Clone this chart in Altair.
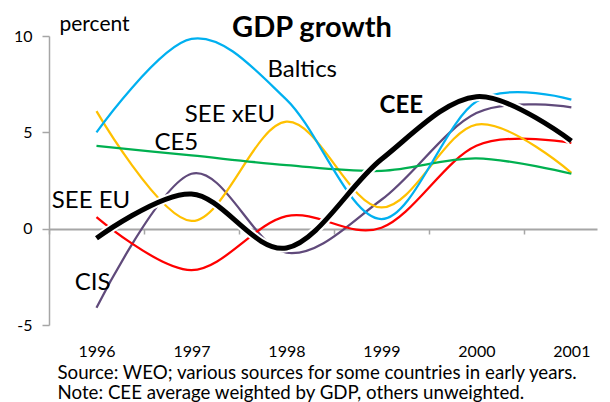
import altair as alt
import pandas as pd

years = [1996, 1997, 1998, 1999, 2000, 2001]
baltics = [5.0, 9.85, 6.7, 0.5, 6.6, 6.7]
see_xeu = [6.1, 0.4, 5.55, 1.1, 5.4, 2.9]
ce5 = [4.3, 3.8, 3.3, 3.0, 3.65, 2.85]
see_eu = [0.6, -2.15, 0.65, 0.05, 4.3, 4.45]
cis = [-4.1, 2.85, -1.25, 1.5, 6.0, 6.3]
cee = [-0.5, 1.8, -1.0, 3.6, 6.85, 4.55]

series_names = ["CIS", "SEE EU", "SEE xEU", "CE5", "Baltics"]
series_values = [cis, see_eu, see_xeu, ce5, baltics]
series_colors = ["#604A7B", "#FF0000", "#FFC000", "#00B050", "#00B0F0"]

label_names = ["Baltics", "SEE xEU", "CE5", "SEE EU", "CIS"]
label_x = [1997.80, 1996.93, 1996.61, 1995.53, 1995.77]
label_y = [8.25, 5.92, 4.46, 1.45, -2.8]
cee_label = ["CEE"]
cee_label_x = [1998.98]
cee_label_y = [6.38]

tick_bounds = [1995.5, 1996.5, 1997.5, 1998.5, 1999.5, 2000.5]
y_ticks = [-5, 0, 5, 10]
note_lines = ["Source: WEO; various sources for some countries in early years.",
              "Note: CEE average weighted by GDP, others unweighted."]

rows = []
for name, vals in zip(series_names, series_values):
    for yr, v in zip(years, vals):
        rows.append({"year": yr, "value": v, "series": name})
df = pd.DataFrame(rows)
cee_df = pd.DataFrame({"year": years, "value": cee})
lab_df = pd.DataFrame({"label": label_names, "x": label_x, "y": label_y})
cee_lab_df = pd.DataFrame({"label": cee_label, "x": cee_label_x, "y": cee_label_y})

FONT = "Lato"
GRAY = "#A6A6A6"
xscale = alt.Scale(domain=[1995.5, 2001.27], nice=False, zero=False)
yscale = alt.Scale(domain=[-5, 10], nice=False, zero=False)

y_axis = alt.Axis(values=y_ticks, grid=False, tickSize=7, tickColor=GRAY, tickWidth=1.5,
                  domainColor=GRAY, domainWidth=1.5, labelPadding=10, labelFont=FONT,
                  labelFontSize=16, labelColor="black", labelExpr="datum.value",
                  title="percent", titleAngle=0, titleAlign="left", titleBaseline="alphabetic",
                  titleX=10, titleY=-6, titleFont=FONT, titleFontSize=21,
                  titleFontWeight="normal", titleColor="black")

axis_zero = alt.Axis(values=tick_bounds, labels=False, ticks=True, tickSize=5, tickColor=GRAY,
                     tickWidth=1.5, domain=True, domainColor=GRAY, domainWidth=2,
                     offset=-96, grid=False, title=None, orient="bottom")

axis_labels = alt.Axis(values=years, ticks=False, domain=False, grid=False, labelPadding=18,
                       labelFont=FONT, labelFontSize=16, labelColor="black", format="d",
                       title=note_lines, titleAnchor="start", titleAlign="left", titleX=8,
                       titleY=38, titleBaseline="top", titleFont=FONT, titleFontSize=18.7,
                       titleFontWeight="normal", titleLineHeight=20, titleColor="black",
                       orient="bottom")

lines = alt.Chart(df).mark_line(interpolate="cardinal", strokeWidth=2.25).encode(
    x=alt.X("year:Q", scale=xscale, axis=axis_zero),
    y=alt.Y("value:Q", scale=yscale, axis=y_axis),
    color=alt.Color("series:N", scale=alt.Scale(domain=series_names, range=series_colors), legend=None),
)

cee_halo = alt.Chart(cee_df).mark_line(interpolate="cardinal", strokeWidth=9, color="white").encode(
    x=alt.X("year:Q", scale=xscale, axis=None),
    y=alt.Y("value:Q", scale=yscale, axis=y_axis),
)
cee_line = alt.Chart(cee_df).mark_line(interpolate="cardinal", strokeWidth=5, color="black").encode(
    x=alt.X("year:Q", scale=xscale, axis=axis_labels),
    y=alt.Y("value:Q", scale=yscale, axis=y_axis),
)

labels = alt.Chart(lab_df).mark_text(align="left", baseline="middle", font=FONT, fontSize=24,
                                     color="black").encode(
    x=alt.X("x:Q", scale=xscale, axis=None),
    y=alt.Y("y:Q", scale=yscale, axis=y_axis),
    text="label:N",
)
cee_text = alt.Chart(cee_lab_df).mark_text(align="left", baseline="middle", font=FONT, fontSize=24,
                                           fontWeight="bold", color="black").encode(
    x=alt.X("x:Q", scale=xscale, axis=None),
    y=alt.Y("y:Q", scale=yscale, axis=y_axis),
    text="label:N",
)

chart = alt.layer(lines, cee_halo, cee_line, labels, cee_text).resolve_axis(
    x="independent"
).properties(
    width=548, height=289,
    title=alt.Title("GDP growth", font=FONT, fontSize=29, fontWeight="bold", color="black",
                    anchor="middle", dx=-11, offset=-30),
    padding={"left": 5, "top": 5, "right": 5, "bottom": 0},
    background="white",
).configure_view(stroke=None)

chart.save("out.html", embed_options={"renderer": "svg", "actions": False})
